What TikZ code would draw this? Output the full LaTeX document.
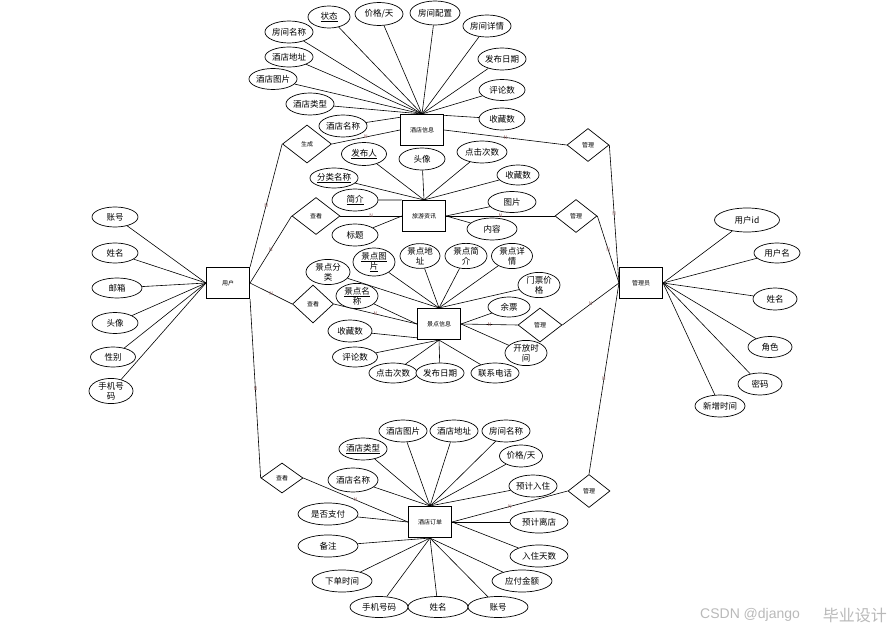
\documentclass[tikz,border=0pt]{standalone}
\usepackage{fontspec}
\setmainfont{Noto Sans CJK SC}
\newfontfamily\wmlat{Liberation Sans}
\usetikzlibrary{shapes.geometric,calc}
\pgfdeclarelayer{background}
\pgfsetlayers{background,main}
\definecolor{nred}{RGB}{150,100,100}
\definecolor{wm}{RGB}{185,185,185}
\tikzset{
  attr/.style={ellipse, draw, fill=white, line width=0.7pt, inner sep=0pt, minimum width=#1, minimum height=22pt, font=\fontsize{8.5}{10}\selectfont, align=center},
  attr/.default=46pt,
  ent/.style={rectangle, draw, fill=white, line width=1.1pt, minimum width=43pt, minimum height=31pt, inner sep=0pt, font=\fontsize{6}{7}\selectfont},
  rel/.style={diamond, draw, fill=white, line width=0.7pt, inner sep=0pt, minimum width=44pt, minimum height=34pt, font=\fontsize{6}{7}\selectfont},
  lk/.style={line width=0.6pt},
  nl/.style={font=\fontsize{5}{5}\selectfont, text=nred, inner sep=0pt, pos=0.5},
  wmark/.style={text=wm, inner sep=0pt}
}
\begin{document}
\begin{tikzpicture}[x=1pt,y=-1pt]
\useasboundingbox (0,0) rectangle (892,631);
% entities
\node[ent] (u) at (228,283) {用户};
\node[ent] (h) at (422,130) {酒店信息};
\node[ent] (t) at (424,216) {旅游资讯};
\node[ent] (s) at (439,324) {景点信息};
\node[ent] (o) at (430,522) {酒店订单};
\node[ent] (a) at (641,283) {管理员};
% relations
\node[rel, minimum width=49pt, minimum height=38pt] (r1) at (307,144) {生成};
\node[rel, minimum width=42pt, minimum height=33pt] (r2) at (588,145) {管理};
\node[rel, minimum width=48pt, minimum height=37pt] (r3) at (316,216) {查看};
\node[rel, minimum width=42pt, minimum height=33pt] (r4) at (576,216) {管理};
\node[rel, minimum width=41pt, minimum height=38pt] (r5) at (313,304) {查看};
\node[rel, minimum width=44pt, minimum height=34pt] (r6) at (540,325) {管理};
\node[rel, minimum width=42pt, minimum height=30pt] (r7) at (282,478) {查看};
\node[rel, minimum width=42pt, minimum height=33pt] (r8) at (589,491) {管理};
% hotel info attributes
\node[attr=42pt] (h1) at (329,17) {\underline{状态}};
\node[attr=48pt, minimum height=23pt] (h2) at (379,14) {价格/天};
\node[attr=50pt, minimum height=24pt] (h3) at (435,13) {房间配置};
\node[attr=47pt] (h4) at (487,26) {房间详情};
\node[attr=47pt] (h5) at (502,59) {发布日期};
\node[attr=46pt, minimum height=21pt] (h6) at (502,90) {评论数};
\node[attr=46pt] (h7) at (502,119) {收藏数};
\node[attr=46pt] (h8) at (289,32) {房间名称};
\node[attr=48pt, minimum height=20pt] (h9) at (289,57) {酒店地址};
\node[attr=47pt, minimum height=21pt] (h10) at (273,79) {酒店图片};
\node[attr=46pt] (h11) at (310,104) {酒店类型};
\node[attr=47pt] (h12) at (343,126) {酒店名称};
% travel news attributes
\node[attr=45pt, minimum height=23pt] (t1) at (364,154) {\underline{发布人}};
\node[attr=46pt] (t2) at (422,159) {头像};
\node[attr=50pt] (t3) at (482,152) {点击次数};
\node[attr=42pt, minimum height=20pt] (t4) at (518,175) {收藏数};
\node[attr=45pt, minimum height=20pt] (t5) at (334,178) {\underline{分类名称}};
\node[attr=46pt] (t6) at (355,200) {\underline{简介}};
\node[attr=46pt] (t7) at (355,235) {标题};
\node[attr=48pt, minimum height=21pt] (t8) at (512,202) {图片};
\node[attr=50pt] (t9) at (492,229) {内容};
% scenic attributes
\node[attr=44pt] (s1) at (328,272) {景点分\\类};
\node[attr=42pt, minimum height=23pt] (s2) at (374,262) {\underline{景点图}\\\underline{片}};
\node[attr=40pt, minimum height=23pt] (s3) at (420,256) {景点地\\址};
\node[attr=42pt, minimum height=23pt] (s4) at (466,256) {景点简\\介};
\node[attr=41pt, minimum height=23pt] (s5) at (512,256) {景点详\\情};
\node[attr=42pt, minimum height=24pt] (s6) at (539,285) {门票价\\格};
\node[attr=42pt, minimum height=20pt] (s7) at (509,307) {余票};
\node[attr=42pt, minimum height=23pt] (s8) at (357,296) {\underline{景点名}\\称};
\node[attr=44pt] (s9) at (350,331) {收藏数};
\node[attr=45pt, minimum height=20pt] (s10) at (355,357) {评论数};
\node[attr=47pt, minimum height=20pt] (s11) at (393,373) {点击次数};
\node[attr=45pt, minimum height=20pt] (s12) at (440,373) {发布日期};
\node[attr=45pt, minimum height=20pt] (s13) at (495,373) {联系电话};
\node[attr=42pt, minimum height=23pt] (s14) at (526,353) {开放时\\间};
% order attributes
\node[attr=47pt] (o1) at (403,431) {酒店图片};
\node[attr=48pt] (o2) at (454,431) {酒店地址};
\node[attr=47pt] (o3) at (506,431) {房间名称};
\node[attr=47pt] (o4) at (363,449) {\underline{酒店类型}};
\node[attr=43pt] (o5) at (521,456) {价格/天};
\node[attr=50pt, minimum height=24pt] (o6) at (353,480) {酒店名称};
\node[attr=47pt] (o7) at (533,486) {预计入住};
\node[attr=60pt] (o8) at (328,514) {是否支付};
\node[attr=58pt] (o9) at (539,522) {预计离店};
\node[attr=60pt] (o10) at (328,546) {备注};
\node[attr=58pt] (o11) at (539,556) {入住天数};
\node[attr=60pt] (o12) at (342,581) {下单时间};
\node[attr=60pt] (o13) at (522,581) {应付金额};
\node[attr=58pt, minimum height=21pt] (o14) at (379,607) {手机号码};
\node[attr=60pt, minimum height=21pt] (o15) at (438,607) {姓名};
\node[attr=60pt, minimum height=21pt] (o16) at (498,607) {账号};
% user attributes
\node[attr=46pt, minimum height=20pt] (u1) at (115,217) {账号};
\node[attr=46pt, minimum height=20pt] (u2) at (115,253) {姓名};
\node[attr=50pt, minimum height=20pt] (u3) at (117,288) {邮箱};
\node[attr=46pt, minimum height=21pt] (u4) at (115,323) {头像};
\node[attr=45pt, minimum height=20pt] (u5) at (113,357) {性别};
\node[attr=44pt] (u6) at (111,391) {手机号\\码};
% admin attributes
\node[attr=65pt, minimum height=24pt] (a1) at (747,220) {用户id};
\node[attr=46pt, minimum height=20pt] (a2) at (777,253) {用户名};
\node[attr=44pt] (a3) at (775,299) {姓名};
\node[attr=44pt, minimum height=21pt] (a4) at (770,347) {角色};
\node[attr=44pt] (a5) at (760,384) {密码};
\node[attr=50pt] (a6) at (720,406) {新增时间};
% watermark
\node[wmark, anchor=west, font=\wmlat\fontsize{14}{16}\selectfont] (wm1) at (700,615) {CSDN @django};
\node[wmark, anchor=east, font=\fontsize{16}{18}\selectfont] (wm2) at (887,615) {毕业设计};
\begin{pgfonlayer}{background}
\foreach \i in {h1,h2,h3,h4,h5,h6,h7,h8,h9,h10,h11,h12} \draw[lk] (\i) -- (h.north);
\foreach \i in {t1,t2,t3,t4,t5} \draw[lk] (\i) -- (t.north);
\draw[lk] (t6) -- (t.north west);
\draw[lk] (t7) -- (t.west);
\draw[lk] (t8) -- (t.east);
\draw[lk] (t9) -- (t.east);
\foreach \i in {s1,s2,s3,s4,s5,s6} \draw[lk] (\i) -- (s.north);
\draw[lk] (s8) -- (s.west);
\draw[lk] (s7) -- (s.east);
\draw[lk] (s14) -- (s.east);
\foreach \i in {s9,s10,s11,s12,s13} \draw[lk] (\i) -- (s.south);
\foreach \i in {o1,o2,o3,o4,o5,o6,o7} \draw[lk] (\i) -- (o.north);
\draw[lk] (o8) -- (o.west);
\draw[lk] (o9) -- (o.east);
\draw[lk] (o11) -- (o.east);
\foreach \i in {o10,o12,o13,o14,o15,o16} \draw[lk] (\i) -- (o.south);
\foreach \i in {u1,u2,u3,u4,u5,u6} \draw[lk] (\i) -- (u.west);
\foreach \i in {a1,a2,a3,a4,a5,a6} \draw[lk] (\i) -- (a.east);
% relationships
\draw[lk] (u.north east) -- node[nl]{N} (r1.west);
\draw[lk] (u.east) -- node[nl]{N} (r3.west);
\draw[lk] (u.east) -- node[nl]{N} (r5.west);
\draw[lk] (u.south east) -- node[nl]{N} (r7.west);
\draw[lk] (r1.east) -- node[nl]{N} (h.west);
\draw[lk] (h.east) -- node[nl]{N} (r2.west);
\draw[lk] (r2.east) -- node[nl]{N} (a.west);
\draw[lk] (r3.east) -- node[nl]{N} (t.west);
\draw[lk] (t.east) -- node[nl]{N} (r4.west);
\draw[lk] (r4.east) -- node[nl]{N} (a.west);
\draw[lk] (r5.east) -- node[nl]{N} (s.west);
\draw[lk] (s.east) -- node[nl]{N} (r6.west);
\draw[lk] (r6.east) -- node[nl]{N} (a.west);
\draw[lk] (a.west) -- node[nl]{N} (r8.north);
\draw[lk] (r7.east) -- node[nl]{N} (o.west);
\draw[lk] (r8.west) -- node[nl]{N} (o.east);
\end{pgfonlayer}
\end{tikzpicture}
\end{document}
